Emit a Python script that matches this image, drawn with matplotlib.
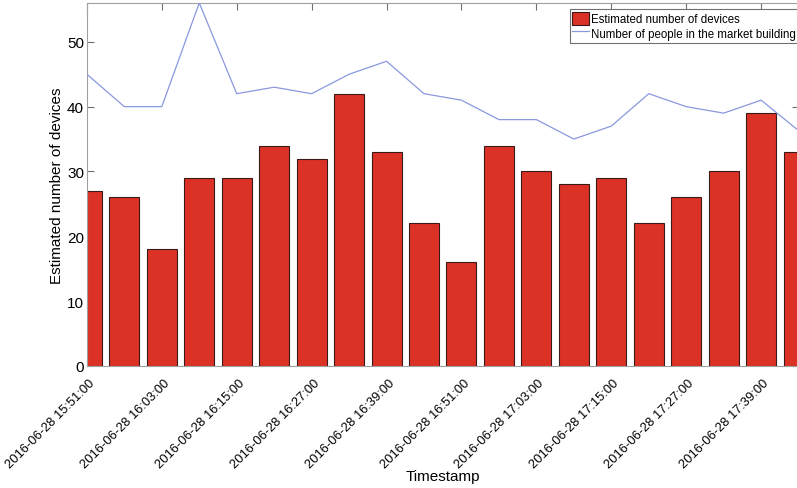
import matplotlib
matplotlib.use('Agg')
import matplotlib.pyplot as plt
import numpy as np

# data: one sample every 6 minutes
timestamps = ['2016-06-28 15:51:00', '2016-06-28 15:57:00', '2016-06-28 16:03:00', '2016-06-28 16:09:00',
              '2016-06-28 16:15:00', '2016-06-28 16:21:00', '2016-06-28 16:27:00', '2016-06-28 16:33:00',
              '2016-06-28 16:39:00', '2016-06-28 16:45:00', '2016-06-28 16:51:00', '2016-06-28 16:57:00',
              '2016-06-28 17:03:00', '2016-06-28 17:09:00', '2016-06-28 17:15:00', '2016-06-28 17:21:00',
              '2016-06-28 17:27:00', '2016-06-28 17:33:00', '2016-06-28 17:39:00', '2016-06-28 17:45:00']
devices = [27, 26, 18, 29, 29, 34, 32, 42, 33, 22, 16, 34, 30, 28, 29, 22, 26, 30, 39, 33]
people = [45, 40, 40, 56, 42, 43, 42, 45, 47, 42, 41, 38, 38, 35, 37, 42, 40, 39, 41, 36.3]

plt.rcParams['font.family'] = ['Liberation Sans', 'DejaVu Sans']

fig = plt.figure(figsize=(7.97, 4.89), dpi=100)
ax = fig.add_axes([0.109, 0.2495, 0.893, 0.7425])

x = np.arange(len(devices))
bars = ax.bar(x, devices, width=0.8, color='#dc3226', edgecolor='#3a1a18', linewidth=0.8,
              label='Estimated number of devices', zorder=2)
line, = ax.plot(x, people, color='#8a98de', linewidth=0.9,
                label='Number of people in the market building', zorder=3)

ax.set_xlim(0, len(devices) - 1)
ax.set_ylim(0, 56)
ax.set_yticks([0, 10, 20, 30, 40, 50])
ax.set_xticks(x[::2])
ax.set_xticklabels([])
# rotated labels drawn by hand so they can sit a bit right of the tick, like the original
for i in x[::2]:
    ax.annotate(timestamps[i], xy=(i, 0), xycoords=('data', 'axes fraction'),
                xytext=(6, -15), textcoords='offset pixels', rotation=45,
                ha='right', va='center', rotation_mode='anchor', fontsize=9.3,
                annotation_clip=False)

for s in ax.spines.values():
    s.set_color('#a0a0a0')
    s.set_linewidth(0.8)
ax.tick_params(direction='in', top=True, right=True, length=5, color='#707070',
               labelcolor='black')
ax.tick_params(axis='y', labelsize=11, pad=2)

ax.set_xlabel('Timestamp', fontsize=11)
ax.xaxis.set_label_coords(0.5, -0.284)
ax.set_ylabel('Estimated number of devices', fontsize=11)
ax.yaxis.set_label_coords(-0.032, 0.5)

leg = ax.legend([bars, line], [bars.get_label(), line.get_label()], loc='upper right',
                bbox_to_anchor=(1.0, 0.984), fontsize=8.3, fancybox=False, framealpha=1,
                borderaxespad=0.0, borderpad=0.25, handlelength=1.4, handleheight=1.4,
                handletextpad=0.2, labelspacing=0.1)
leg.get_frame().set_edgecolor('#707070')
leg.get_frame().set_linewidth(0.8)

plt.savefig('out.png', dpi=100)
